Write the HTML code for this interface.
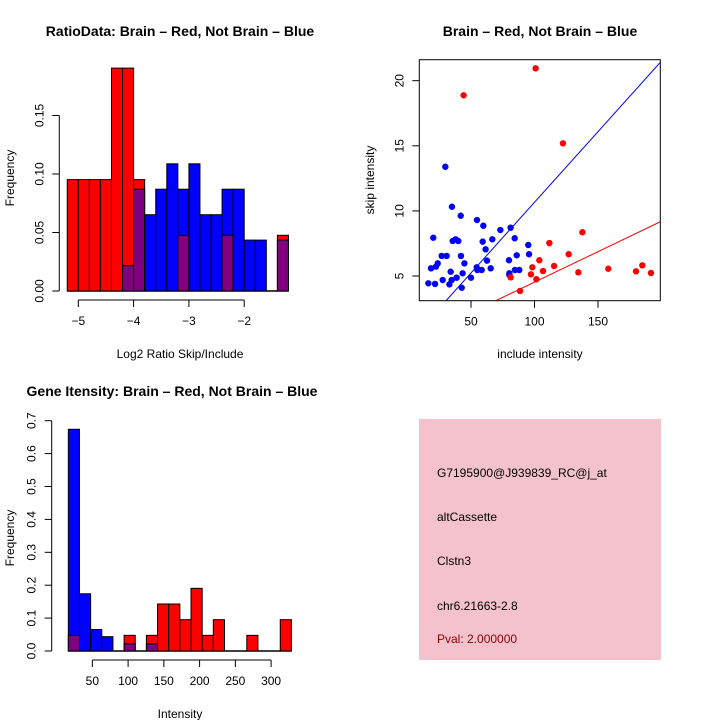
<!DOCTYPE html>
<html><head><meta charset="utf-8"><style>
html,body{margin:0;padding:0;background:#fff;}
svg{display:block;font-family:"Liberation Sans",sans-serif;}
</style></head><body>
<svg id="s" width="720" height="720" viewBox="0 0 720 720" xmlns="http://www.w3.org/2000/svg">
<rect x="0" y="0" width="720" height="720" fill="#fff"/>
<text x="180" y="36" text-anchor="middle" font-size="14" font-weight="bold">RatioData: Brain – Red, Not Brain – Blue</text>
<text x="180" y="358" text-anchor="middle" font-size="12">Log2 Ratio Skip/Include</text>
<text transform="translate(14,178) rotate(-90)" text-anchor="middle" font-size="12">Frequency</text>
<text x="540" y="36" text-anchor="middle" font-size="14" font-weight="bold">Brain – Red, Not Brain – Blue</text>
<text x="540" y="358" text-anchor="middle" font-size="12">include intensity</text>
<text transform="translate(374,180) rotate(-90)" text-anchor="middle" font-size="12">skip intensity</text>
<text x="172" y="396" text-anchor="middle" font-size="14" font-weight="bold">Gene Itensity: Brain – Red, Not Brain – Blue</text>
<text x="180" y="718" text-anchor="middle" font-size="12">Intensity</text>
<text transform="translate(14,538) rotate(-90)" text-anchor="middle" font-size="12">Frequency</text>
<g>
<rect x="419" y="419" width="242" height="241" fill="#f4c2cc"/>
<text x="437" y="477" font-size="12">G7195900@J939839_RC@j_at</text>
<text x="437" y="521" font-size="12">altCassette</text>
<text x="437" y="565" font-size="12">Clstn3</text>
<text x="437" y="610" font-size="12">chr6.21663-2.8</text>
<text x="437" y="643" font-size="12" fill="#8b0000">Pval: 2.000000</text>
</g>
<g id="g1"></g><g id="g2"></g><g id="g3"></g>
</svg>
<script>
// Ratio histogram data (bins of 0.2 starting at -5.2)
const ratioBinStart = -5.2;
const ratioBinWidth = 0.2;
const ratioRed  = [0.0952,0.0952,0.0952,0.0952,0.1905,0.1905,0.0952,0,0,0,0.0476,0,0,0,0.0476,0,0,0,0,0.0476];
const ratioBlue = [0,0,0,0,0,0.0217,0.0870,0.0652,0.0870,0.1087,0.0870,0.1087,0.0652,0.0652,0.0870,0.0870,0.0435,0.0435,0,0.0435];
const ratioXTicks = [-5,-4,-3,-2];
const ratioYTicks = [0,0.05,0.10,0.15];
const ratioYLabels = ["0.00","0.05","0.10","0.15"];
// Intensity histogram data
const intBinStart = 16.4;
const intBinWidth = 15.6;
const intRed  = [0.0476,0,0,0,0,0.0476,0,0.0476,0.1429,0.1429,0.0952,0.1905,0.0476,0.0952,0,0,0.0476,0,0,0.0952];
const intBlue = [0.6739,0.1739,0.0652,0.0435,0,0.0217,0,0.0217,0,0,0,0,0,0,0,0,0,0,0,0];
const intXTicks = [50,100,150,200,250,300];
const intYTicks = [0,0.1,0.2,0.3,0.4,0.5,0.6,0.7];
const intYLabels = ["0.0","0.1","0.2","0.3","0.4","0.5","0.6","0.7"];
// Scatter data
const blueX = [16.4,21.7,18.5,22.4,23.8,20.3,26.9,30.8,27.7,33,34.8,38.7,34,29.8,35,35.6,37.9,40,41.9,42.1,44.8,43.4,42.7,50,54.7,59.7,59.2,61.5,62.6,54.5,55,58.4,65.5,66.8,73.1,81.2,84.4,79.9,86,80.2,80.2,84.6,88,95.1,95.7];
const blueY = [4.44,4.39,5.59,5.72,5.97,7.94,6.54,6.54,4.69,4.36,4.69,4.87,5.33,13.39,10.32,7.69,7.82,7.69,9.63,6.54,5.97,5.21,4.10,4.87,9.30,8.86,7.64,7.05,6.18,5.67,5.46,5.46,5.59,7.82,8.53,8.71,7.90,6.21,6.59,5.21,5.08,5.46,5.46,7.38,6.67];
const redX = [44.2,100.9,122.4,137.7,111.7,126.9,103.8,98.3,97.2,101.5,81.2,88.6,106.7,115.4,134.5,158.1,179.9,184.9,191.7];
const redY = [18.88,20.95,15.19,8.36,7.53,6.67,6.21,5.67,5.13,4.75,4.90,3.85,5.38,5.77,5.28,5.56,5.36,5.82,5.23];
const blueSlope = 0.1085, blueIntercept = -0.19;
const redSlope = 0.0468, redIntercept = -0.15;
const scXTicks = [50,100,150];
const scYTicks = [5,10,15,20];

const NS="http://www.w3.org/2000/svg";
function mk(parent,tag,attrs){const e=document.createElementNS(NS,tag);for(const k in attrs)e.setAttribute(k,attrs[k]);parent.appendChild(e);return e;}

function hist(g,start,w,red,blue,sx,sy,base,xTicks,xAxisY,yTicks,yLabels,yAxisX,prefix){
  // baseline
  const last=start+w*red.length;
  const bl=mk(g,'line',{x1:sx(start),x2:sx(Math.max(last,start)),y1:base,y2:base,stroke:'#000','stroke-width':1.5});
  
  
  for(let i=0;i<red.length;i++){
    const x0=sx(start+i*w), x1=sx(start+(i+1)*w);
    const r=red[i], b=blue[i];
    const hi=Math.max(r,b), lo=Math.min(r,b);
    if(hi>0){
      const e=mk(g,'rect',{x:x0,y:sy(hi),width:x1-x0,height:base-sy(hi),fill:r>=b?'#ff0000':'#0000ff',stroke:'#000','stroke-width':1});
      
      
    }
    if(lo>0){
      const e=mk(g,'rect',{x:x0,y:sy(lo),width:x1-x0,height:base-sy(lo),fill:'#800080',stroke:'#000','stroke-width':1});
      
      
    }
  }
  const xa=mk(g,'line',{x1:sx(xTicks[0]),x2:sx(xTicks[xTicks.length-1]),y1:xAxisY,y2:xAxisY,stroke:'#000'});
  
  
  xTicks.forEach(t=>{
    mk(g,'line',{x1:sx(t),x2:sx(t),y1:xAxisY,y2:xAxisY+7,stroke:'#000'});
    const tx=mk(g,'text',{x:sx(t),y:xAxisY+25,'text-anchor':'middle','font-size':12});
    tx.textContent=(t<0?'\u2212'+(-t):String(t));
    
    
  });
  const ya=mk(g,'line',{x1:yAxisX,x2:yAxisX,y1:sy(yTicks[0]),y2:sy(yTicks[yTicks.length-1]),stroke:'#000'});
  
  
  yTicks.forEach((t,i)=>{
    mk(g,'line',{x1:yAxisX-7,x2:yAxisX,y1:sy(t),y2:sy(t),stroke:'#000'});
    const tx=mk(g,'text',{transform:`translate(${yAxisX-16},${sy(t)}) rotate(-90)`,'text-anchor':'middle','font-size':12});
    tx.textContent=yLabels[i];
    
    
  });
}
// Plot 1
const g1=document.getElementById('g1');


hist(g1,ratioBinStart,ratioBinWidth,ratioRed,ratioBlue,
  v=>78.3+(v+5)*55.3, v=>291-v*1170, 291, ratioXTicks, 300, ratioYTicks, ratioYLabels, 59.3, 'ratio');
// Plot 3
const g3=document.getElementById('g3');


hist(g3,intBinStart,intBinWidth,intRed,intBlue,
  v=>56.6+v*0.715, v=>651-v*329, 651, intXTicks, 660, intYTicks, intYLabels, 51.7, 'intensity');
// Plot 2 scatter
const g2=document.getElementById('g2');


const X0=419.3,X1=660.3,Y0=59.7,Y1=300.7;
const sx=v=>407.5+v*1.27, sy=v=>276-(v-5)*13.02;
const xmin=(X0-407.5)/1.27, xmax=(X1-407.5)/1.27;
const cp=mk(g2,'clipPath',{id:'cp'});mk(cp,'rect',{x:X0,y:Y0,width:X1-X0,height:Y1-Y0});
function fitLine(m,b,col,name){
  const l=mk(g2,'line',{x1:sx(xmin),y1:sy(m*xmin+b),x2:sx(xmax),y2:sy(m*xmax+b),stroke:col,'stroke-width':1,'clip-path':'url(#cp)'});
  
  
}
fitLine(blueSlope,blueIntercept,'#0000ff','blue-fit-line');
fitLine(redSlope,redIntercept,'#ff0000','red-fit-line');
blueX.forEach((x,i)=>{const c=mk(g2,'circle',{cx:sx(x),cy:sy(blueY[i]),r:3.2,fill:'#0000ff'});
  
  });
redX.forEach((x,i)=>{const c=mk(g2,'circle',{cx:sx(x),cy:sy(redY[i]),r:3.2,fill:'#ff0000'});
  
  });
const box=mk(g2,'rect',{x:X0,y:Y0,width:X1-X0,height:Y1-Y0,fill:'none',stroke:'#000'});


scXTicks.forEach(t=>{
  mk(g2,'line',{x1:sx(t),x2:sx(t),y1:Y1,y2:Y1+7,stroke:'#000'});
  const tx=mk(g2,'text',{x:sx(t),y:Y1+25,'text-anchor':'middle','font-size':12});tx.textContent=t;
  
  
});
scYTicks.forEach(t=>{
  mk(g2,'line',{x1:X0-7,x2:X0,y1:sy(t),y2:sy(t),stroke:'#000'});
  const tx=mk(g2,'text',{transform:`translate(${X0-16},${sy(t)}) rotate(-90)`,'text-anchor':'middle','font-size':12});tx.textContent=t;
  
  
});
</script>
</body></html>
